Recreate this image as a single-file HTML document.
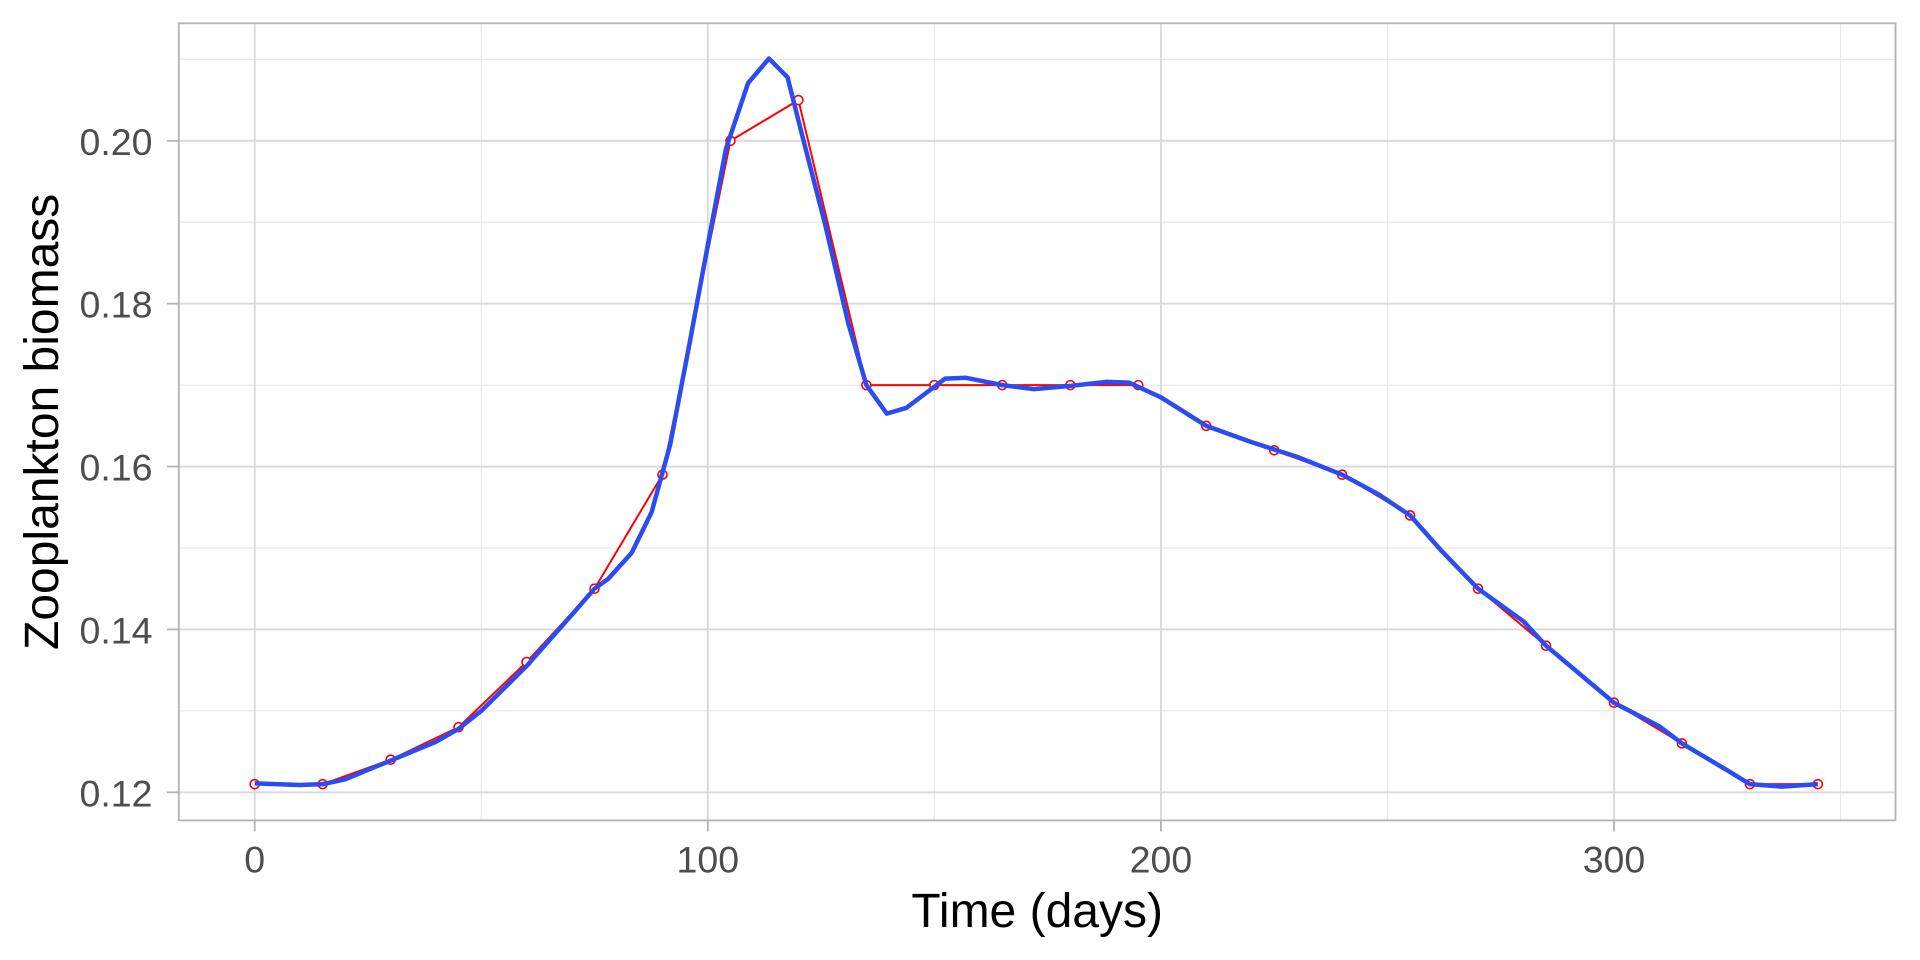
<!DOCTYPE html>
<html><head><meta charset="utf-8"><style>
html,body{margin:0;padding:0;background:#fff;}
svg{display:block;font-family:"Liberation Sans",Arial,sans-serif;}
</style></head><body>
<svg id="chart" width="1920" height="960" viewBox="0 0 1920 960"></svg>
<script>
const obsDays=[0,15,30,45,60,75,90,105,120,135,150,165,180,195,210,225,240,255,270,285,300,315,330,345];
const obsValues=[0.121,0.121,0.124,0.128,0.136,0.145,0.159,0.200,0.205,0.170,0.170,0.170,0.170,0.170,0.165,0.162,0.159,0.154,0.145,0.138,0.131,0.126,0.121,0.121];
const fitDays=[0,10,15,20,30,40,45,50,60,70,75,78,83.2,87.6,91.7,96,100,104,108.9,113.5,117.6,121,126,131,135,139.5,143.8,150,152.4,157,165,172,180,188,193,200,210,220,230,240,248,255,262,270,280,285,300,310,315,325,330,337,345];
const fitValues=[0.1211,0.1209,0.1210,0.1216,0.1239,0.1262,0.1278,0.1300,0.1355,0.1418,0.1450,0.1462,0.1494,0.1544,0.1627,0.1752,0.1872,0.1990,0.2071,0.2101,0.2078,0.2003,0.1895,0.1776,0.1700,0.1665,0.1672,0.1698,0.1708,0.1709,0.1700,0.1695,0.1699,0.1704,0.1703,0.1685,0.1650,0.1630,0.1612,0.1590,0.1566,0.1540,0.1496,0.1450,0.1410,0.1380,0.1310,0.1281,0.1260,0.1227,0.1210,0.1207,0.1210];
const xMajor=[0,100,200,300];
const xMinor=[50,150,250,350];
const yMajor=[0.12,0.14,0.16,0.18,0.20];
const yMinor=[0.13,0.15,0.17,0.19,0.21];
const yLabels=["0.12","0.14","0.16","0.18","0.20"];

const P={l:178.8,r:1895.5,t:23.3,b:820.4};
const X=d=>254.7+d*4.531;
const Y=v=>792.3-(v-0.12)*8143.75;
const svg=document.getElementById('chart');
const NS='http://www.w3.org/2000/svg';
function mk(tag,attrs,parent){const e=document.createElementNS(NS,tag);for(const k in attrs)e.setAttribute(k,attrs[k]);(parent||svg).appendChild(e);return e;}

const grid=mk('g',{});


xMinor.forEach(d=>{const l=mk('line',{x1:X(d),x2:X(d),y1:P.t,y2:P.b,stroke:'#e8e8e8','stroke-width':1.2},grid);});
yMinor.forEach(v=>{const l=mk('line',{x1:P.l,x2:P.r,y1:Y(v),y2:Y(v),stroke:'#e8e8e8','stroke-width':1.2},grid);});
xMajor.forEach(d=>{const l=mk('line',{x1:X(d),x2:X(d),y1:P.t,y2:P.b,stroke:'#d9d9d9','stroke-width':1.8},grid);});
yMajor.forEach(v=>{const l=mk('line',{x1:P.l,x2:P.r,y1:Y(v),y2:Y(v),stroke:'#d9d9d9','stroke-width':1.8},grid);});

const obsLine=mk('polyline',{points:obsDays.map((d,i)=>X(d)+','+Y(obsValues[i])).join(' '),fill:'none',stroke:'#ff0000','stroke-width':2});


obsDays.forEach((d,i)=>{const c=mk('circle',{cx:X(d),cy:Y(obsValues[i]),r:4.5,fill:'#fff',stroke:'#ff0000','stroke-width':1.6});

});
const fit=mk('polyline',{points:fitDays.map((d,i)=>X(d)+','+Y(fitValues[i])).join(' '),fill:'none',stroke:'#2a4cf0','stroke-width':4.5,'stroke-linejoin':'round'});



const border=mk('rect',{x:P.l,y:P.t,width:P.r-P.l,height:P.b-P.t,fill:'none',stroke:'#b3b3b3','stroke-width':1.8});



xMajor.forEach(d=>{mk('line',{x1:X(d),x2:X(d),y1:P.b,y2:P.b+11,stroke:'#b3b3b3','stroke-width':1.8});
const t=mk('text',{x:X(d),y:P.b+52,'text-anchor':'middle','font-size':37.5,fill:'#4d4d4d'});t.textContent=d;

});
yMajor.forEach((v,i)=>{mk('line',{x1:P.l-12,x2:P.l,y1:Y(v),y2:Y(v),stroke:'#b3b3b3','stroke-width':1.8});
const t=mk('text',{x:152.5,y:Y(v)+14,'text-anchor':'end','font-size':37.5,fill:'#4d4d4d'});t.textContent=yLabels[i];

});

const xt=mk('text',{x:(P.l+P.r)/2,y:927,'text-anchor':'middle','font-size':48,fill:'#000'});xt.textContent='Time (days)';


const yt=mk('text',{x:0,y:0,'text-anchor':'middle','font-size':48,fill:'#000',transform:'translate(58,'+((P.t+P.b)/2)+') rotate(-90)'});yt.textContent='Zooplankton biomass';


</script>
</body></html>
